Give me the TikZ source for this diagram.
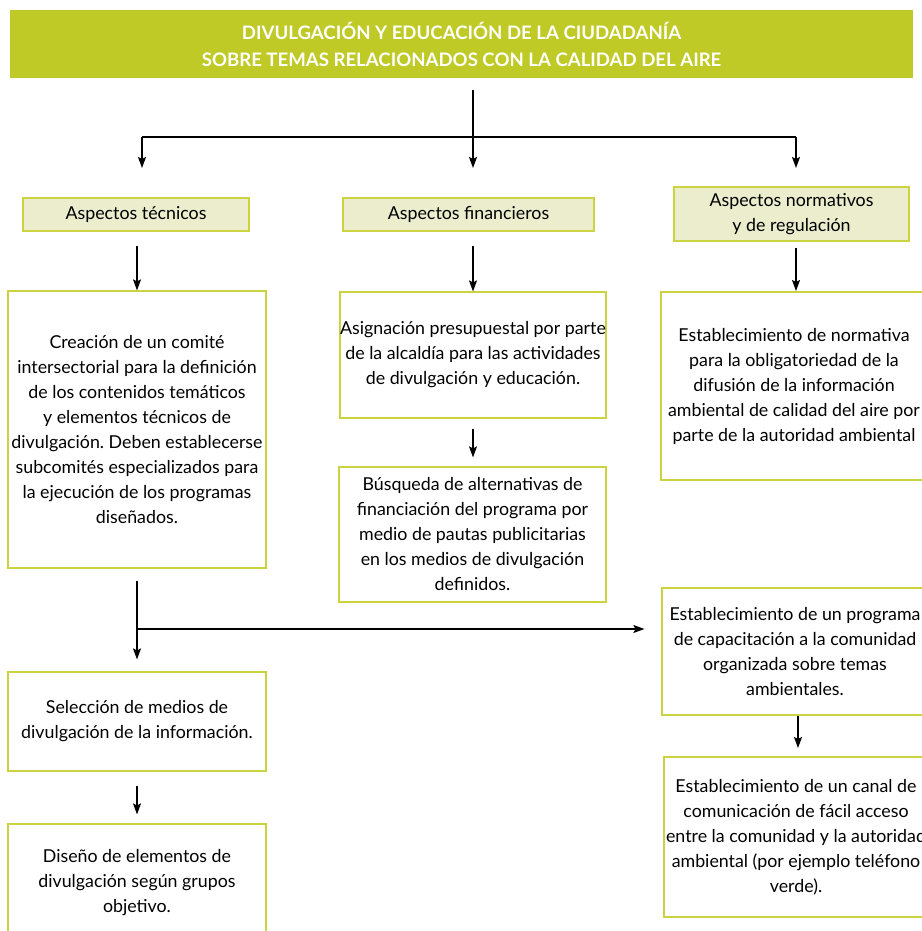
\documentclass[tikz,border=0pt]{standalone}
\usepackage{fontspec}
\setmainfont{Lato}
\usetikzlibrary{arrows.meta,positioning}
\definecolor{lime}{RGB}{191,202,38}
\definecolor{limeline}{RGB}{203,212,64}
\definecolor{limefill}{RGB}{235,237,204}
\frenchspacing

\begin{document}
\begin{tikzpicture}[x=1pt,y=-1pt]
	\def\fs{\fontsize{17.8}{25}\selectfont}

	\tikzset{line/.style={draw,line width=1.2pt}}
	\tikzset{arrow/.style={line,-{Stealth[length=11pt,width=8pt,inset=2pt]}}}
	\tikzset{title/.style={fill=lime,text=white,font=\bfseries\fontsize{18.6}{27}\selectfont,align=center,inner sep=0pt,minimum width=903pt,minimum height=68pt}}
	\tikzset{label/.style={draw=limeline,fill=limefill,line width=1.5pt,align=center,inner sep=0pt,font=\fs}}
	\tikzset{box/.style={draw=limeline,fill=white,line width=1.2pt,align=center,inner sep=0pt,font=\fs}}

	\useasboundingbox (0,0) rectangle (921,931);

	\node[title] (head) at (461.5,44) {DIVULGACIÓN Y EDUCACIÓN DE LA CIUDADANÍA\\SOBRE TEMAS RELACIONADOS CON LA CALIDAD DEL AIRE};

	% three branches
	\node[label,minimum width=226pt,minimum height=33pt] (tec) at (136,214.5) {Aspectos técnicos};
	\node[label,minimum width=251pt,minimum height=33pt] (fin) at (468.5,214.5) {Aspectos financieros};
	\node[label,minimum width=235pt,minimum height=54pt] (nor) at (791.5,214) {Aspectos normativos\\y de regulación};

	\node[box,minimum width=258pt,minimum height=277pt] (tecA) at (137,429.5) {Creación de un comité\\intersectorial para la definición\\de los contenidos temáticos\\y elementos técnicos de\\divulgación. Deben establecerse\\subcomités especializados para\\la ejecución de los programas\\diseñados.};
	\node[box,minimum width=258pt,minimum height=99pt] (tecB) at (137,721.5) {Selección de medios de\\divulgación de la información.};
	\node[box,minimum width=258pt,minimum height=118pt] (tecC) at (137,883) {Diseño de elementos de\\divulgación según grupos\\objetivo.};

	\node[box,minimum width=266pt,minimum height=126pt] (finA) at (473,355) {Asignación presupuestal por parte\\de la alcaldía para las actividades\\de divulgación y educación.};
	\node[box,minimum width=267pt,minimum height=135pt] (finB) at (472.5,534.5) {Búsqueda de alternativas de\\financiación del programa por\\medio de pautas publicitarias\\en los medios de divulgación\\definidos.};

	\node[box,minimum width=266pt,minimum height=188pt] (norA) at (794,386) {Establecimiento de normativa\\para la obligatoriedad de la\\difusión de la información\\ambiental de calidad del aire por\\parte de la autoridad ambiental};
	\node[box,minimum width=266pt,minimum height=127pt] (progA) at (795,651.5) {Establecimiento de un programa\\de capacitación a la comunidad\\organizada sobre temas\\ambientales.};
	\node[box,minimum width=264pt,minimum height=160pt] (progB) at (796,837) {Establecimiento de un canal de\\comunicación de fácil acceso\\entre la comunidad y la autoridad\\ambiental (por ejemplo teléfono\\verde).};

	% fork under the title
	\coordinate (top) at (473,90);
	\coordinate (fork) at (473,137);
	\coordinate (forkL) at (142,137);
	\coordinate (forkR) at (796,137);
	\coordinate (tipL) at (142,168);
	\coordinate (tipM) at (473,168);
	\coordinate (tipR) at (796,168);

	\path[line] (top) -- (fork);
	\path[line] (forkL) -- (forkR);
	\path[arrow] (fork) -- (tipM);
	\path[arrow] (forkL) -- (tipL);
	\path[arrow] (forkR) -- (tipR);

	\path[arrow,shorten <=14pt] (tecA.north |- tec.south) -- (tecA.north);
	\path[arrow,shorten <=14pt] (finA.north |- fin.south) -- (finA.north);
	\path[arrow,shorten <=6pt] (nor.south -| 796,0) -- (796,291);
	\path[arrow,shorten <=10pt,shorten >=9pt] (finA.south) -- (finA.south |- finB.north);
	\path[arrow,shorten <=12pt,shorten >=12pt] (tecA.south) -- (tecB.north);
	\coordinate (branch) at (137,629);
	\path[arrow,shorten >=17pt] (branch) -- (progA.west |- branch);
	\path[arrow,shorten >=9pt] (progA.south -| 798,0) -- (798,757);
	\path[arrow,shorten <=14pt,shorten >=9pt] (tecB.south) -- (tecC.north);
\end{tikzpicture}
\end{document}
